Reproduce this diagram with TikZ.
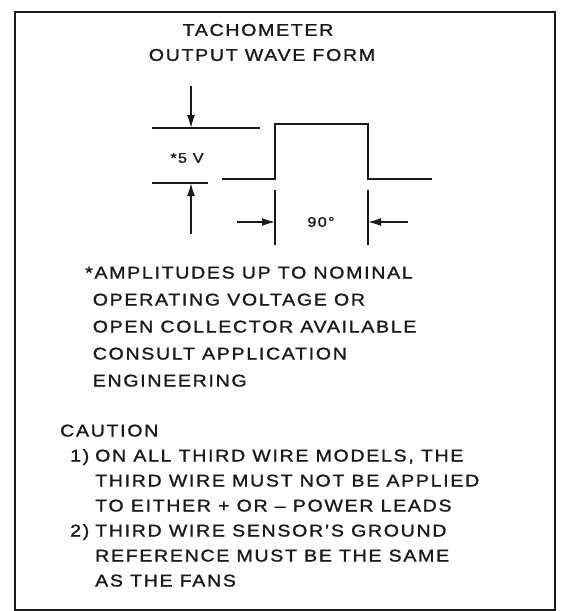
\documentclass[tikz,border=0pt]{standalone}
\usepackage{fontspec}
\setmainfont{Liberation Sans}[FakeStretch=1.15, LetterSpace=10, FakeBold=1.2]
\usetikzlibrary{arrows.meta}

\begin{document}
\begin{tikzpicture}[x=1pt, y=-1pt]
    % Define text size and line gaps
    \def\lineGap{27}
    \def\cautionGap{25}

    \definecolor{inkColour}{HTML}{1A1A1A}

    \tikzset{
        label/.style={inner sep=0pt, text=inkColour, font=\fontsize{17}{20}\selectfont},
        wave/.style={draw=inkColour, line width=1.7pt},
        dim/.style={draw=inkColour, line width=1.4pt, -{Latex[length=13pt, width=8pt]}}
    }

    % Page and frame
    \useasboundingbox (0,0) rectangle (569,611);
    \fill[white] (0,0) rectangle (569,611);
    \draw[inkColour, line width=2.6pt] (15,12) rectangle (555,610);

    % Title
    \node[label] (title) at (258,30) {TACHOMETER};
    \node[label] (subtitle) at (262,55) {OUTPUT WAVE FORM};

    % Define the points of the wave form
    \coordinate (W1) at (222,179);
    \coordinate (W2) at (275,179);
    \coordinate (W3) at (275,124);
    \coordinate (W4) at (368,124);
    \coordinate (W5) at (368,179);
    \coordinate (W6) at (432,179);

    % Draw the wave form
    \draw[wave] (W1) -- (W2) -- (W3) -- (W4) -- (W5) -- (W6);

    % Amplitude reference lines
    \coordinate (highL) at (152,128);
    \coordinate (highR) at (260,128);
    \coordinate (lowL) at (152,183);
    \coordinate (lowR) at (208,183);
    \draw[wave] (highL) -- (highR);
    \draw[wave] (lowL) -- (lowR);

    % Amplitude arrows
    \coordinate (ampTop) at (191,86);
    \coordinate (ampHigh) at (191,128);
    \coordinate (ampBot) at (191,234);
    \coordinate (ampLow) at (191,183);
    \draw[dim] (ampTop) -- (ampHigh);
    \draw[dim] (ampBot) -- (ampLow);
    \node[label, font=\fontsize{14}{16}\selectfont] (amp) at (187,158) {*5 V};

    % Width markers
    \coordinate (markAt) at (275,190);
    \coordinate (markAb) at (275,245);
    \coordinate (markBt) at (368,190);
    \coordinate (markBb) at (368,245);
    \draw[wave] (markAt) -- (markAb);
    \draw[wave] (markBt) -- (markBb);

    % Width arrows
    \coordinate (leftTail) at (237,222);
    \coordinate (leftHead) at (275,222);
    \coordinate (rightTail) at (408,222);
    \coordinate (rightHead) at (368,222);
    \draw[dim] (leftTail) -- (leftHead);
    \draw[dim] (rightTail) -- (rightHead);
    \node[label, font=\fontsize{14}{16}\selectfont] (angle) at (321,222) {90°};

    % Footnote on amplitude
    \foreach \t [count=\i] in {{*AMPLITUDES UP TO NOMINAL}, {\phantom{*}OPERATING VOLTAGE OR},
        {\phantom{*}OPEN COLLECTOR AVAILABLE}, {\phantom{*}CONSULT APPLICATION},
        {\phantom{*}ENGINEERING}}
        \node[label, anchor=base west] (note\i) at (85,{272+6.5+\lineGap*(\i-1)}) {\t};

    % Caution notes
    \node[label, anchor=base west] (caution) at (60,{430+6.5}) {CAUTION};
    \node[label, anchor=base west] (oneNum) at (70,{455+6.5}) {1)};
    \node[label, anchor=base west] (twoNum) at (70,{530+6.5}) {2)};
    \foreach \t [count=\i] in {{ON ALL THIRD WIRE MODELS, THE}, {THIRD WIRE MUST NOT BE APPLIED},
        {TO EITHER + OR – POWER LEADS}, {THIRD WIRE SENSOR'S GROUND},
        {REFERENCE MUST BE THE SAME}, {AS THE FANS}}
        \node[label, anchor=base west] (caut\i) at (95,{455+6.5+\cautionGap*(\i-1)}) {\t};

\end{tikzpicture}
\end{document}
